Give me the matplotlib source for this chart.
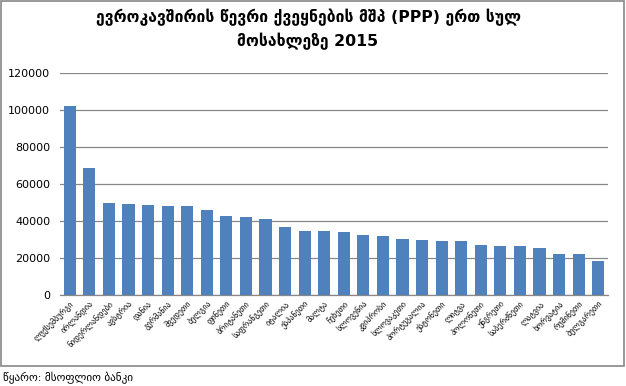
import matplotlib
matplotlib.use("Agg")
import matplotlib.pyplot as plt
from matplotlib.patches import Rectangle

plt.rcParams['font.family'] = ['DejaVu Sans']

countries = ["ლუქსემბურგი", "ირლანდია", "ნიდერლანდები", "ავსტრია", "დანია",
             "გერმანია", "შვედეთი", "ბელგია", "ფინეთი", "ბრიტანეთი",
             "საფრანგეთი", "იტალია", "ესპანეთი", "მალტა", "ჩეხეთი",
             "სლოვენია", "კვიპროსი", "სლოვაკეთი", "პორტუგალია", "ესტონეთი",
             "ლიტვა", "პოლონეთი", "უნგრეთი", "საბერძნეთი", "ლატვია",
             "ხორვატია", "რუმინეთი", "ბულგარეთი"]
values = [102000, 68600, 49500, 49300, 48800, 48000, 47900, 45800, 42500, 42000,
          41000, 37000, 34700, 34500, 33900, 32300, 31900, 30300, 30000, 29200,
          29000, 26900, 26600, 26400, 25400, 22400, 22300, 18500]
yticks = [0, 20000, 40000, 60000, 80000, 100000, 120000]
title = "ევროკავშირის წევრი ქვეყნების მშპ (PPP) ერთ სულ\nმოსახლეზე 2015"
source = "წყარო: მსოფლიო ბანკი"

W, H = 626, 386
fig = plt.figure(figsize=(W/100, H/100), dpi=100)
fig.patch.set_facecolor('white')
fig.add_artist(Rectangle((1/W, 1-366/H), 623/W, 365/H, transform=fig.transFigure,
                         fill=False, edgecolor='#888888', linewidth=1.2))

ax = fig.add_axes([60/W, 1-295/H, 548/W, 222/H])
x = list(range(len(values)))
ax.bar(x, values, width=0.62, color='#4F81BD', zorder=3)
ax.set_xlim(-0.5, len(values)-0.5)
ax.set_ylim(0, 120000)
ax.set_yticks(yticks)
ax.set_yticklabels([str(v) for v in yticks], fontsize=8)
ax.yaxis.grid(True, color='#888888', linewidth=0.9, zorder=0)
ax.tick_params(axis='y', length=0, pad=7)
ax.tick_params(axis='x', length=0, pad=3)
ax.set_xticks(x)
ax.set_xticklabels(countries, rotation=45, ha='right', rotation_mode='anchor', fontsize=5.8)
for s in ['top', 'right', 'left']:
    ax.spines[s].set_visible(False)
ax.spines['bottom'].set_color('#888888')
ax.spines['bottom'].set_linewidth(0.9)

fig.text(308/W, 1-29/H, title, ha='center', va='center', fontsize=11.3,
         fontweight='bold', linespacing=1.5)
fig.text(3/W, 1-378/H, source, ha='left', va='center', fontsize=8)

fig.savefig("out.png", dpi=100)
